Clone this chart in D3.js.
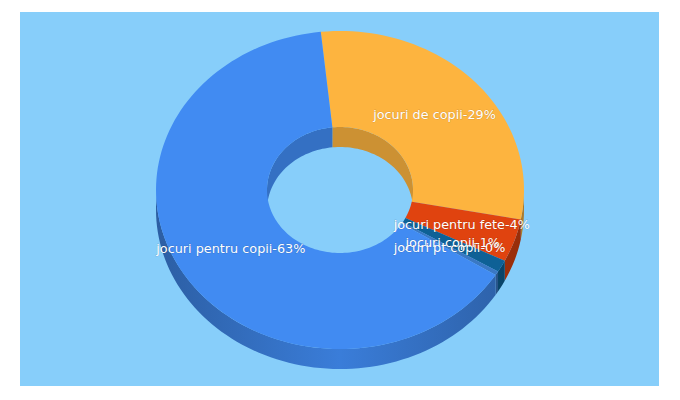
<!DOCTYPE html>
<html><head><meta charset="utf-8">
<script src="https://cdn.jsdelivr.net/npm/d3@7"></script>
<style>body{margin:0;background:#fff}</style>
</head><body>
<svg width="680" height="400"></svg>
<script>
var labels = ['jocuri de copii', 'jocuri pentru fete', 'jocuri copii', 'jocuri pt copii', 'jocuri pentru copii'];
var values = [29.2, 4.3, 1.2, 0.4, 63.4];
var shown = ['29%', '4%', '1%', '0%', '63%'];
var colors = ['#fdb43f', '#e0430f', '#0e6196', '#3a78c4', '#418bf2'];

var svg = d3.select('svg');
svg.append('rect').attr('x', 20).attr('y', 12).attr('width', 639).attr('height', 374).attr('fill', '#87cefa');

var cx = 340, cy = 190, rx = 184, ry = 159, irx = 73, iry = 63, depth = 20;
var startDeg = -6;
var rad = Math.PI / 180;

var pie = d3.pie().sort(null).value(function(d) { return d; })
  .startAngle(startDeg * rad).endAngle((startDeg + 360) * rad);
var arcs = pie(values);

function ept(a, ex, ey, dy) {
  return [cx + ex * Math.sin(a), cy - ey * Math.cos(a) + dy];
}
function range(s, e) {
  var n = Math.max(2, Math.ceil((e - s) / (rad * 2))), out = [];
  for (var i = 0; i <= n; i++) out.push(s + (e - s) * i / n);
  return out;
}
var line = d3.line();

function wall(s, e, ex, ey) {
  var ts = range(s, e);
  var top = ts.map(function(t) { return ept(t, ex, ey, 0); });
  var bot = ts.slice().reverse().map(function(t) { return ept(t, ex, ey, depth); });
  return line(top.concat(bot)) + 'Z';
}
function clip(s, e, lo, hi) {
  var res = [];
  for (var k = -1; k <= 1; k++) {
    var a = Math.max(s, lo + k * 2 * Math.PI), b = Math.min(e, hi + k * 2 * Math.PI);
    if (b > a) res.push([a, b]);
  }
  return res;
}

// horizontal gradients for the walls, lighter toward the middle
var defs = svg.append('defs');
colors.forEach(function(c, i) {
  var gr = defs.append('linearGradient').attr('id', 'w' + i)
    .attr('gradientUnits', 'userSpaceOnUse')
    .attr('x1', cx - rx).attr('x2', cx + rx).attr('y1', 0).attr('y2', 0);
  gr.append('stop').attr('offset', '0%').attr('stop-color', d3.color(c).darker(1.1));
  gr.append('stop').attr('offset', '50%').attr('stop-color', d3.color(c).darker(0.3));
  gr.append('stop').attr('offset', '100%').attr('stop-color', d3.color(c).darker(1.1));
});

var g = svg.append('g');
arcs.forEach(function(d, i) {
  clip(d.startAngle, d.endAngle, -Math.PI / 2, Math.PI / 2).forEach(function(r) {
    g.append('path').attr('d', wall(r[0], r[1], irx, iry))
      .attr('fill', d3.color(colors[i]).darker(0.6));
  });
});
arcs.forEach(function(d, i) {
  clip(d.startAngle, d.endAngle, Math.PI / 2, 3 * Math.PI / 2).forEach(function(r) {
    g.append('path').attr('d', wall(r[0], r[1], rx, ry))
      .attr('fill', 'url(#w' + i + ')');
  });
});
arcs.forEach(function(d, i) {
  var ts = range(d.startAngle, d.endAngle);
  var outer = ts.map(function(t) { return ept(t, rx, ry, 0); });
  var inner = ts.slice().reverse().map(function(t) { return ept(t, irx, iry, 0); });
  g.append('path').attr('d', line(outer.concat(inner)) + 'Z').attr('fill', colors[i]);
});
arcs.forEach(function(d, i) {
  var m = (d.startAngle + d.endAngle) / 2;
  var p = ept(m, (rx + irx) / 2, (ry + iry) / 2, 0);
  svg.append('text').attr('x', p[0]).attr('y', p[1] + 4)
    .attr('text-anchor', 'middle').attr('fill', '#fff')
    .attr('font-family', 'DejaVu Sans, sans-serif').attr('font-size', 12.8)
    .style('paint-order', 'stroke').attr('stroke', 'rgba(0,0,0,0.15)').attr('stroke-width', 1)
    .text(labels[i] + '-' + shown[i]);
});
</script>
</body></html>
